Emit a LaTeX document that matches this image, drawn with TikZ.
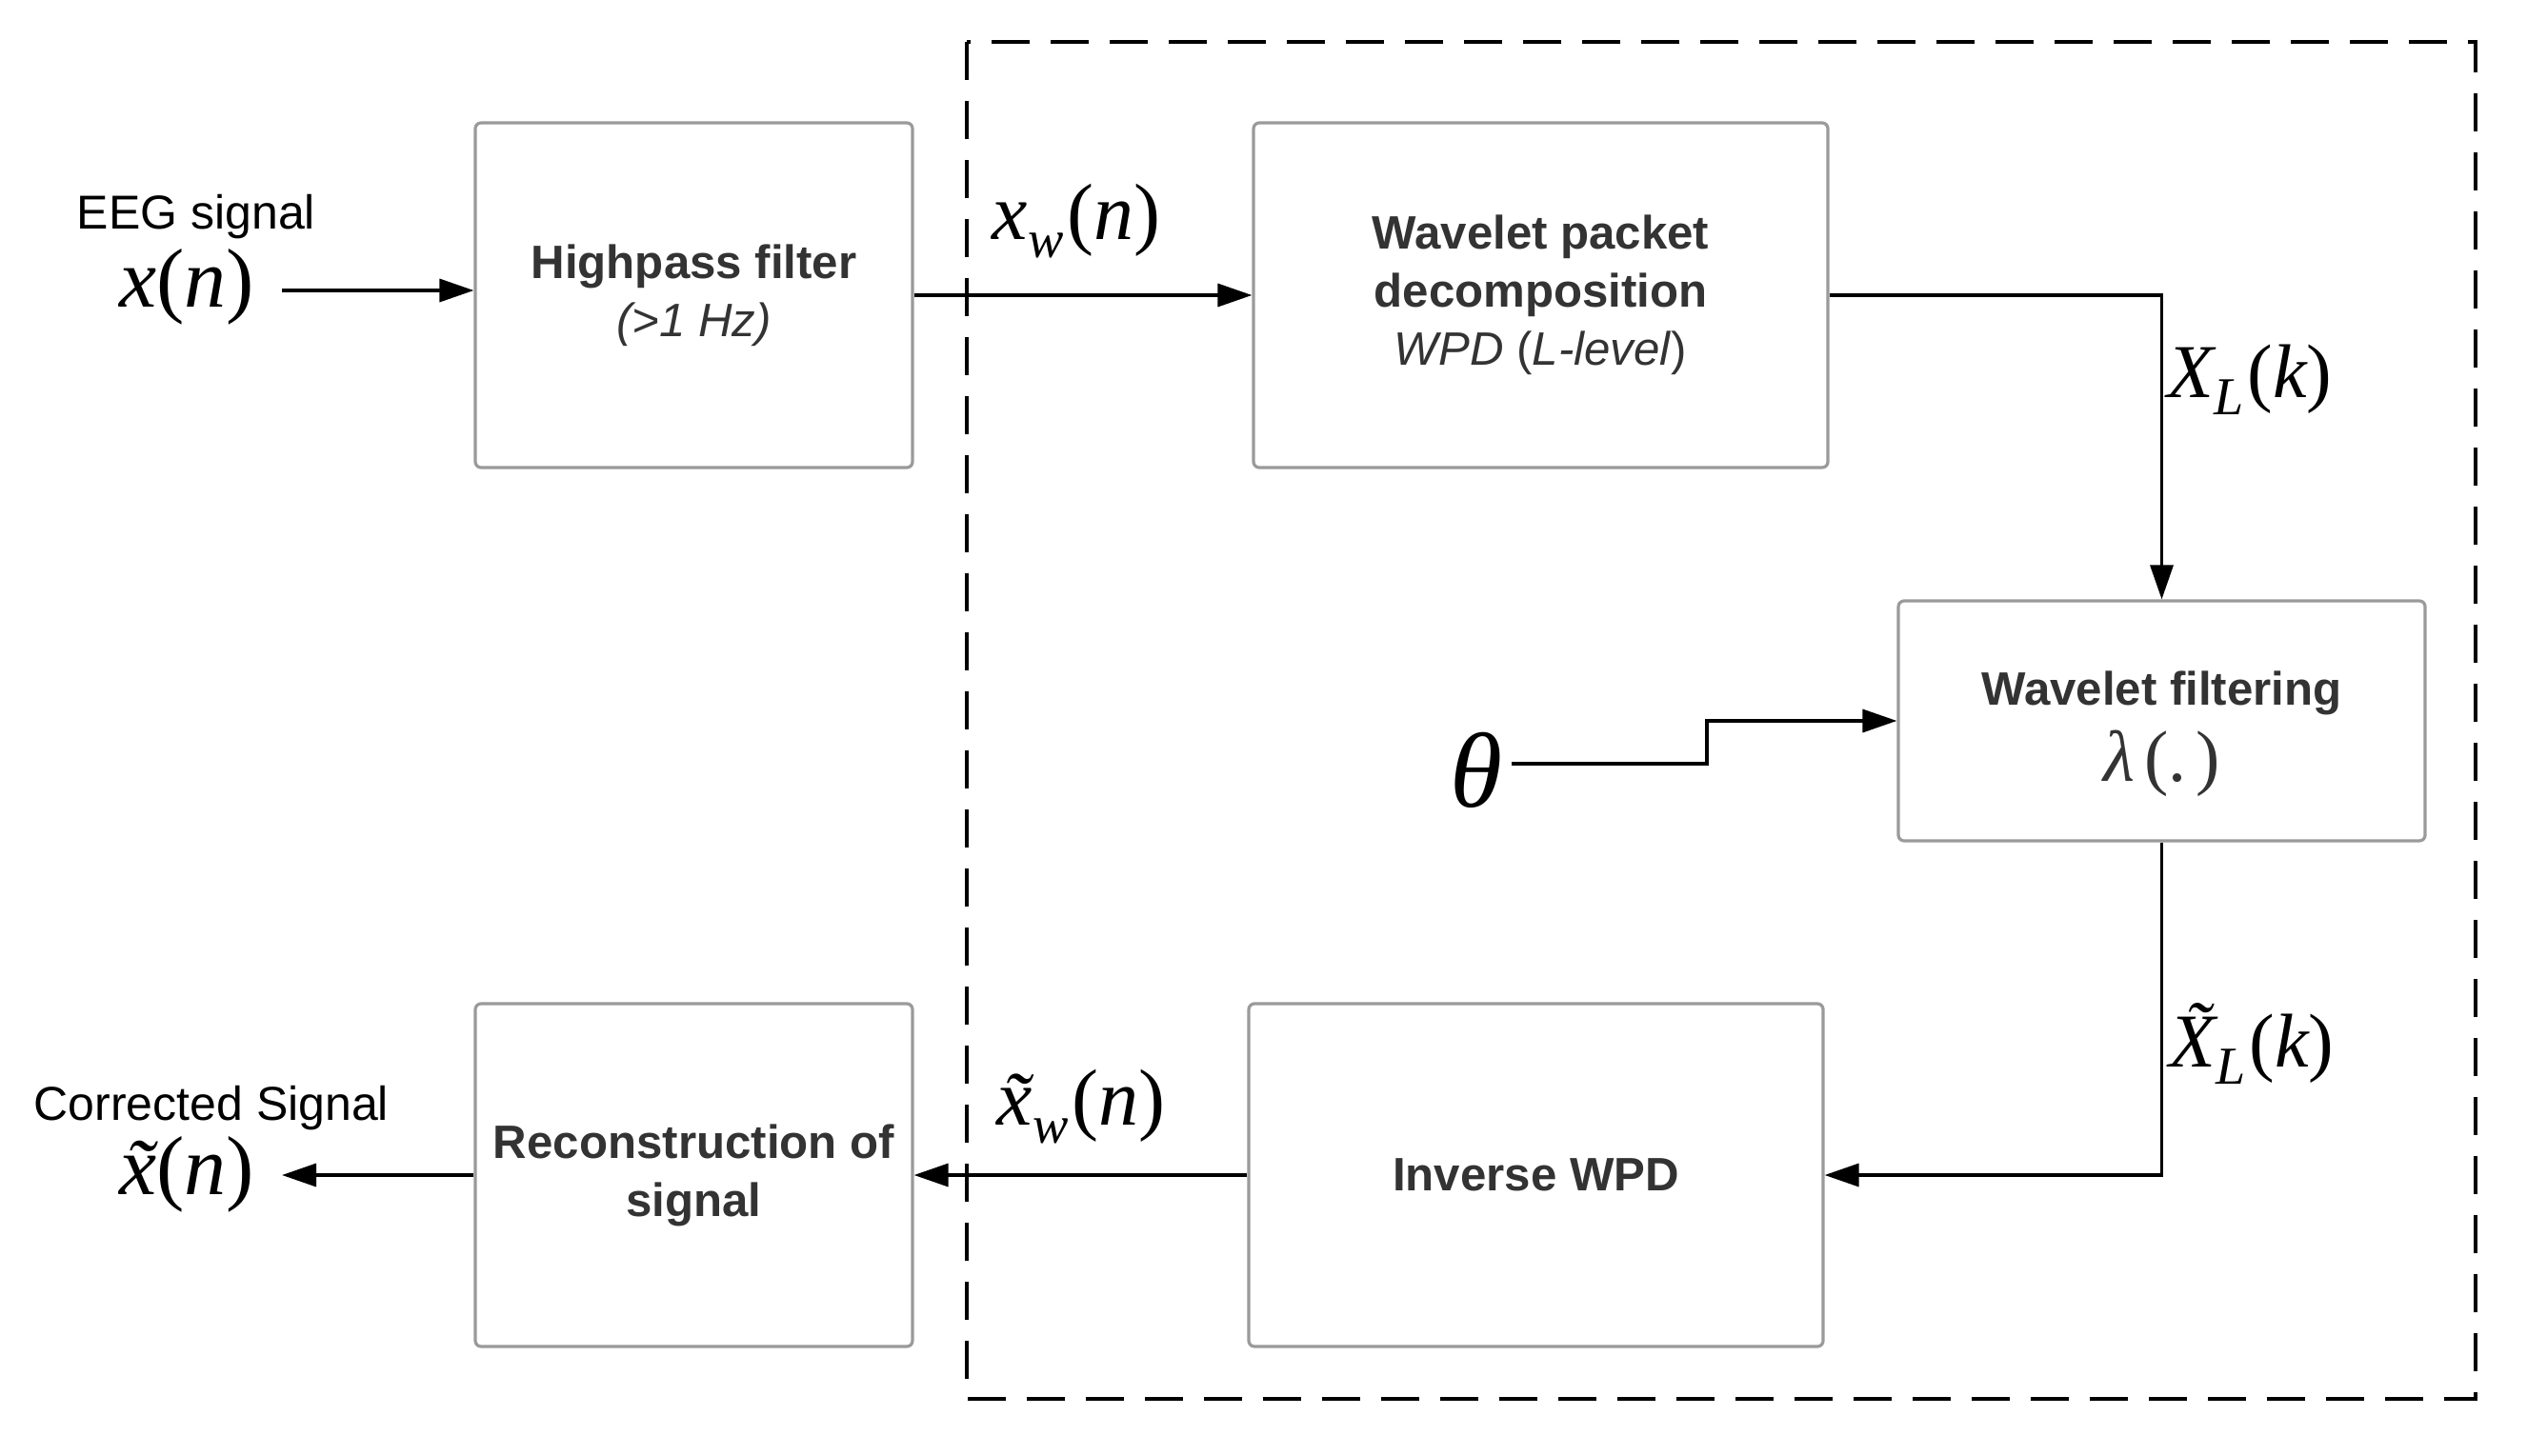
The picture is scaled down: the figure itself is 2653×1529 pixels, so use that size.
\documentclass[tikz,border=0pt]{standalone}
\usepackage{fontspec}
\setmainfont{Liberation Sans}
\newfontfamily\tms{Liberation Serif}
\usetikzlibrary{arrows.meta}
\definecolor{boxline}{HTML}{9A9A9A}
\definecolor{boxtext}{HTML}{333333}
\newcommand{\mt}[2]{{\tms\fontsize{#1}{#1}\selectfont #2}}
\newcommand{\vi}[1]{{\itshape #1}}
\newcommand{\sbw}[1]{\raisebox{-0.22em}{\fontsize{14}{14}\selectfont\itshape #1}}
\begin{document}
\begin{tikzpicture}[x=0.25pt,y=-0.25pt,
  blk/.style={draw=boxline, line width=0.8pt, rounded corners=1.5pt, fill=white,
    align=center, text=boxtext, font=\fontsize{12.3}{15.2}\selectfont, inner sep=0pt},
  arr/.style={line width=0.85pt, -{Triangle[length=9pt,width=6pt]}},
  lbl/.style={inner sep=0pt, font=\fontsize{12.5}{15}\selectfont},
  mlab/.style={inner sep=0pt}]
\useasboundingbox (0,0) rectangle (2653,1529);
% frame
\draw[line width=1pt, dash pattern=on 10pt off 5.5pt] (1015,44) rectangle (2599,1469);
% boxes
\node[blk, minimum width=114.75pt, minimum height=90.5pt] (hp) at (728.5,310)
  {\textbf{Highpass filter}\\\textit{(>1 Hz)}};
\node[blk, minimum width=150.75pt, minimum height=90.5pt] (wpd) at (1617.5,310)
  {\textbf{Wavelet packet}\\\textbf{decomposition}\\\textit{WPD} (\textit{L-level})};
\node[blk, minimum width=138.25pt, minimum height=63pt] (wf) at (2269.5,757)
  {\rule{0pt}{16pt}\textbf{Wavelet filtering}\\[3pt]\mt{19}{\vi{λ}\kern2.5pt(.\kern2.5pt)}};
\node[blk, minimum width=150.75pt, minimum height=90pt] (iw) at (1612.5,1234)
  {\textbf{Inverse WPD}};
\node[blk, minimum width=114.75pt, minimum height=90pt] (rec) at (728.5,1234)
  {\textbf{Reconstruction of}\\\textbf{signal}};
% labels
\node[lbl] (eeg) at (206,228) {EEG signal};
\node[lbl] (cor) at (222,1164) {Corrected Signal};
\node[mlab] (xin) at (196,301) {\mt{22}{\vi{x}(\vi{n})}};
\node[mlab] (xout) at (196,1233) {\mt{22}{\vi{\~{x}}(\vi{n})}};
\node[mlab] (xw) at (1130,232) {\mt{21}{\vi{x}\sbw{w}\kern1pt(\vi{n})}};
\node[mlab] (xtw) at (1135,1162) {\mt{21}{\vi{\~{x}}\sbw{w}\kern1pt(\vi{n})}};
\node[mlab] (XL) at (2362,399) {\mt{20}{\vi{X}\sbw{L}\kern1pt(\vi{k})}};
\node[mlab] (XtL) at (2364,1096) {\mt{20}{\vi{\~{X}}\sbw{L}\kern1pt(\vi{k})}};
\node[mlab] (th) at (1550,809) {\mt{28}{\vi{θ}}};
% connector points
\coordinate (xa) at (296,305);
\coordinate (xo) at (296,1234);
\coordinate (ta) at (1587,802);
\coordinate (tk) at (1792,802);
% connectors
\draw[arr] (xa) -- (xa -| hp.west);
\draw[arr] (hp.east) -- (wpd.west);
\draw[arr] (wpd.east) -| (wf.north);
\draw[arr] (ta) -- (tk) |- (wf.west);
\draw[arr] (wf.south) |- (iw.east);
\draw[arr] (iw.west) -- (rec.east);
\draw[arr] (rec.west) -- (xo);
\end{tikzpicture}
\end{document}
